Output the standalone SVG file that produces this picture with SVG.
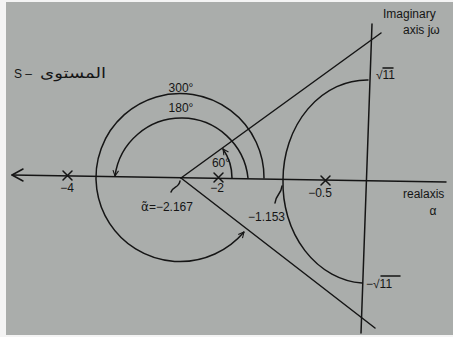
<svg xmlns="http://www.w3.org/2000/svg" width="453" height="337" viewBox="0 0 453 337">
<defs>
<style>
.ln{fill:none;stroke:#151515;stroke-width:1.5;stroke-linecap:round;stroke-linejoin:round}
.t{font-family:"Liberation Sans",Arial,sans-serif;font-size:12px;fill:#151515}
.ar{font-family:"DejaVu Sans",sans-serif;font-size:14px;fill:#151515}
</style>
<marker id="ah" viewBox="0 0 10 10" refX="9" refY="5" markerWidth="7" markerHeight="7" orient="auto" markerUnits="userSpaceOnUse">
<path d="M1 1 L9 5 L1 9" fill="none" stroke="#151515" stroke-width="1.5"/>
</marker>
</defs>
<rect x="0" y="0" width="453" height="337" fill="#f4f4f4"/>
<rect x="6" y="2" width="447" height="333" fill="#aaadab"/>

<g id="connectors">
<g id="real-axis">
<line class="ln" x1="12" y1="175" x2="446" y2="182"/>
<path class="ln" d="M23 169 L12 175 L23 181"/>
</g>
<line id="imag-axis" class="ln" x1="372" y1="24" x2="361" y2="333"/>
<line id="asym-up" class="ln" x1="181" y1="178" x2="381" y2="33"/>
<line id="asym-down" class="ln" x1="181" y1="178" x2="375" y2="328"/>
<path id="arc300" class="ln" d="M264 178 A84 84 0 1 0 244 232" marker-end="url(#ah)"/>
<path id="arc180" class="ln" d="M248 178 A67 67 0 0 0 115 176" marker-end="url(#ah)"/>
<path id="arc60" class="ln" d="M232 178 A51 51 0 0 0 223 149" marker-end="url(#ah)"/>
<path id="locus" class="ln" d="M368 80 A84 100 0 0 0 283 180 A84 100 0 0 0 362 283"/>
<path class="ln" d="M180 181 C179 188 173 186 171 192"/>
<path class="ln" d="M282 186 C281 195 276 194 275 203"/>
</g>

<g id="poles">
<path class="ln" d="M63 171 L72 180 M72 171 L63 180"/>
<path class="ln" d="M214 173 L223 182 M223 173 L214 182"/>
<path class="ln" d="M321 176 L330 185 M330 176 L321 185"/>
</g>

<g id="labels">
<text class="t" x="383" y="18">Imaginary</text>
<text class="t" x="403" y="34">axis jω</text>
<text class="t" x="376" y="79">√11</text>
<line class="ln" x1="383" y1="68" x2="393" y2="68" stroke-width="1"/>
<text class="t" x="366" y="288">−√11</text>
<line class="ln" x1="381" y1="276" x2="400" y2="276" stroke-width="1"/>
<text class="t" x="14" y="78">S –</text>
<text class="ar" x="40" y="78" textLength="66" lengthAdjust="spacingAndGlyphs">المستوى</text>
<text class="t" x="181" y="92" text-anchor="middle">300°</text>
<text class="t" x="181" y="112" text-anchor="middle">180°</text>
<text class="t" x="221" y="167" text-anchor="middle" font-size="10">60°</text>
<text class="t" x="67" y="192" text-anchor="middle">−4</text>
<text class="t" x="217" y="192" text-anchor="middle">−2</text>
<text class="t" x="320" y="197" text-anchor="middle">−0.5</text>
<text class="t" x="141" y="211"><tspan font-family="DejaVu Sans">α̃</tspan>=−2.167</text>
<text class="t" x="248" y="221">−1.153</text>
<text class="t" x="403" y="198">realaxis</text>
<text class="t" x="433" y="215" text-anchor="middle">α</text>
</g>
</svg>
